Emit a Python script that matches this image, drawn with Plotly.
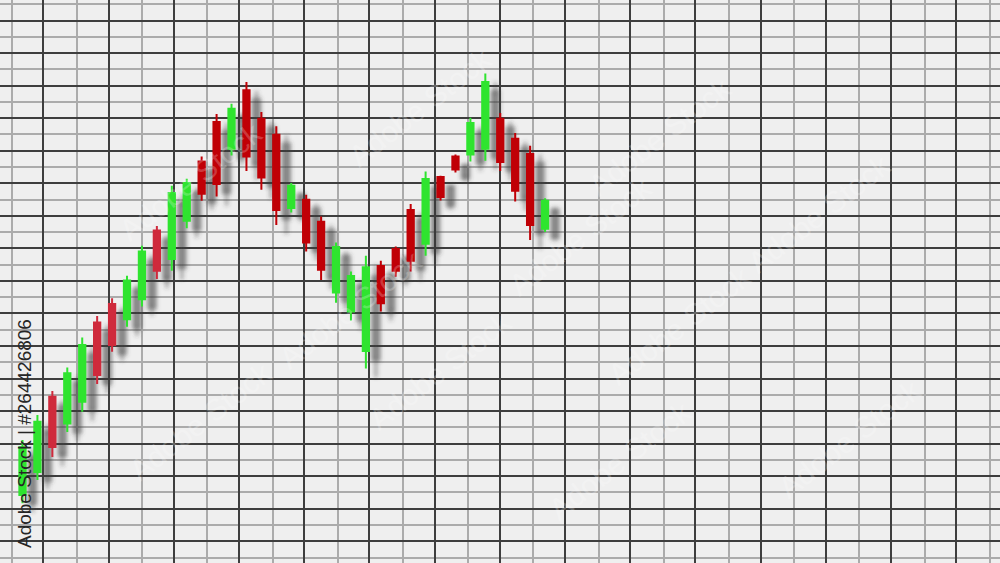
import plotly.graph_objects as go

# ---------------- data ----------------
idx = list(range(1, 37))
open_ = [14.2, 21.3, 44.4, 36.2, 42.9, 67.2, 72.9, 68.2, 74.4, 95.5, 86.7, 98.5,
         116.7, 128.8, 120.6, 138.6, 129.8, 124.9, 102.4, 104.9, 98.2, 76.4, 70.6, 58.5,
         84.6, 89.8, 101.8, 91.4, 111.9, 118.2, 118.8, 120.6, 129.8, 123.7, 119.0, 96.0]
high = [31.1, 38.8, 46.2, 53.4, 62.6, 69.2, 74.7, 81.6, 90.8, 96.9, 109.2, 111.4,
        118.2, 131.3, 134.4, 141.1, 131.9, 127.5, 110.1, 106.5, 99.8, 91.8, 82.9, 87.7,
        86.2, 90.6, 103.6, 113.6, 112.3, 118.8, 130.1, 143.7, 131.6, 125.4, 121.5, 105.4]
low = [11.7, 18.8, 25.9, 33.6, 39.8, 48.3, 58.2, 65.9, 72.1, 80.6, 83.1, 96.2,
       104.6, 105.9, 118.5, 113.8, 108.0, 97.2, 101.0, 89.0, 80.3, 73.3, 67.8, 53.1,
       70.6, 81.3, 82.9, 87.7, 104.7, 113.3, 116.7, 116.9, 113.8, 104.4, 92.6, 95.0]
close = [28.9, 36.7, 29.0, 51.6, 60.3, 51.1, 60.3, 80.1, 89.0, 83.1, 107.0, 110.1,
         106.8, 109.8, 132.9, 118.2, 111.8, 101.8, 109.2, 91.8, 83.4, 90.4, 81.5, 84.2,
         73.1, 83.1, 86.2, 111.3, 105.8, 114.2, 128.5, 141.1, 116.5, 107.7, 97.2, 104.6]
watermark = "Adobe Stock"
credit = "Adobe Stock | #264426806"

# ---------------- layout constants ----------------
W, H = 1000, 563
STEP_PX = 14.93          # pixels per candle
FIRST_PX = 22.5          # pixel of first candle
X0 = 1 - FIRST_PX / STEP_PX
X1 = X0 + W / STEP_PX
Y_BASE_PX, Y_SCALE = 541.3, 3.255
Y0 = (Y_BASE_PX - H) / Y_SCALE
Y1 = Y_BASE_PX / Y_SCALE

GRID_DX = 65.2 / STEP_PX
GRID_X_MAJOR = X0 + 43.3 / STEP_PX
GRID_X_MINOR = X0 + 11.7 / STEP_PX

SH_DX = 10 / STEP_PX     # shadow offset
SH_DY = 9 / Y_SCALE

GREEN = "#2fe42f"
RED_EARLY = "#cf2a3c"
RED_LATE = "#c00006"
SHADOW = "rgba(60,60,60,0.5)"

fig = go.Figure()

# shadows (base axes, drawn beneath)
fig.add_trace(go.Candlestick(
    x=[i + SH_DX for i in idx],
    open=[v - SH_DY for v in open_], high=[v - SH_DY for v in high],
    low=[v - SH_DY for v in low], close=[v - SH_DY for v in close],
    increasing=dict(line=dict(color=SHADOW, width=3), fillcolor=SHADOW),
    decreasing=dict(line=dict(color=SHADOW, width=3), fillcolor=SHADOW),
    hoverinfo="skip", showlegend=False, xaxis="x", yaxis="y"))

def subset(sel):
    return dict(x=[idx[k] for k in sel], open=[open_[k] for k in sel],
                high=[high[k] for k in sel], low=[low[k] for k in sel],
                close=[close[k] for k in sel])

early = [k for k in range(len(idx)) if k < 12]
late = [k for k in range(len(idx)) if k >= 12]
for sel, red in ((early, RED_EARLY), (late, RED_LATE)):
    fig.add_trace(go.Candlestick(
        **subset(sel),
        increasing=dict(line=dict(color=GREEN, width=2), fillcolor=GREEN),
        decreasing=dict(line=dict(color=red, width=2), fillcolor=red),
        showlegend=False, xaxis="x2", yaxis="y2"))

grid_common = dict(showticklabels=False, ticks="", zeroline=False, showline=False,
                   fixedrange=True)
fig.update_layout(
    width=W, height=H, margin=dict(l=0, r=0, t=0, b=0),
    paper_bgcolor="#efefef", plot_bgcolor="#efefef",
    boxgap=0.4,
    xaxis=dict(range=[X0, X1], tick0=GRID_X_MAJOR, dtick=GRID_DX,
               showgrid=True, gridcolor="#3e3e3e", gridwidth=1.5,
               minor=dict(showgrid=True, tick0=GRID_X_MINOR, dtick=GRID_DX,
                          gridcolor="#ababab", gridwidth=1.6),
               rangeslider=dict(visible=False), **grid_common),
    yaxis=dict(range=[Y0, Y1], tick0=0, dtick=10,
               showgrid=True, gridcolor="#3e3e3e", gridwidth=1.5,
               minor=dict(showgrid=True, tick0=5, dtick=10,
                          gridcolor="#ababab", gridwidth=1.6),
               **grid_common),
    xaxis2=dict(range=[X0, X1], overlaying="x", visible=False,
                rangeslider=dict(visible=False)),
    yaxis2=dict(range=[Y0, Y1], overlaying="y", visible=False),
)

# faint tiled watermarks
wm_positions = [(0.11, 0.80), (0.42, 0.93), (0.74, 0.88), (0.27, 0.45), (0.58, 0.58),
                (0.90, 0.62), (0.12, 0.13), (0.44, 0.22), (0.76, 0.30), (0.62, 0.06),
                (0.93, 0.10)]
for (px, py) in wm_positions:
    fig.add_annotation(text=watermark, x=px, y=py, xref="paper", yref="paper",
                       showarrow=False, textangle=-38,
                       font=dict(family="Liberation Sans, Arial", size=30,
                                 color="rgba(255,255,255,0.22)"))

fig.add_annotation(text=credit, x=24 / W, y=1 - 434 / H, xref="paper", yref="paper",
                   xanchor="center", yanchor="middle",
                   showarrow=False, textangle=-90,
                   font=dict(family="Liberation Sans, Arial", size=19, color="#262626"))

post = """
document.body.style.margin='0';document.body.style.overflow='hidden';
function blurShadows(){
  var svg = document.querySelector('.main-svg');
  if(!svg) return;
  var ns = 'http://www.w3.org/2000/svg';
  if(!document.getElementById('shblur')){
    var defs = svg.querySelector('defs') || svg.insertBefore(document.createElementNS(ns,'defs'), svg.firstChild);
    var f = document.createElementNS(ns,'filter');
    f.setAttribute('id','shblur');
    f.setAttribute('x','-60%'); f.setAttribute('y','-30%');
    f.setAttribute('width','220%'); f.setAttribute('height','160%');
    var g = document.createElementNS(ns,'feGaussianBlur');
    g.setAttribute('stdDeviation','2.3');
    f.appendChild(g); defs.appendChild(f);
  }
  var layer = svg.querySelector('.subplot.xy .boxlayer');
  if(layer) layer.setAttribute('filter','url(#shblur)');
}
blurShadows(); setTimeout(blurShadows, 0); setTimeout(blurShadows, 200);
"""

fig.write_html("out.html", config={"displayModeBar": False}, post_script=post)
